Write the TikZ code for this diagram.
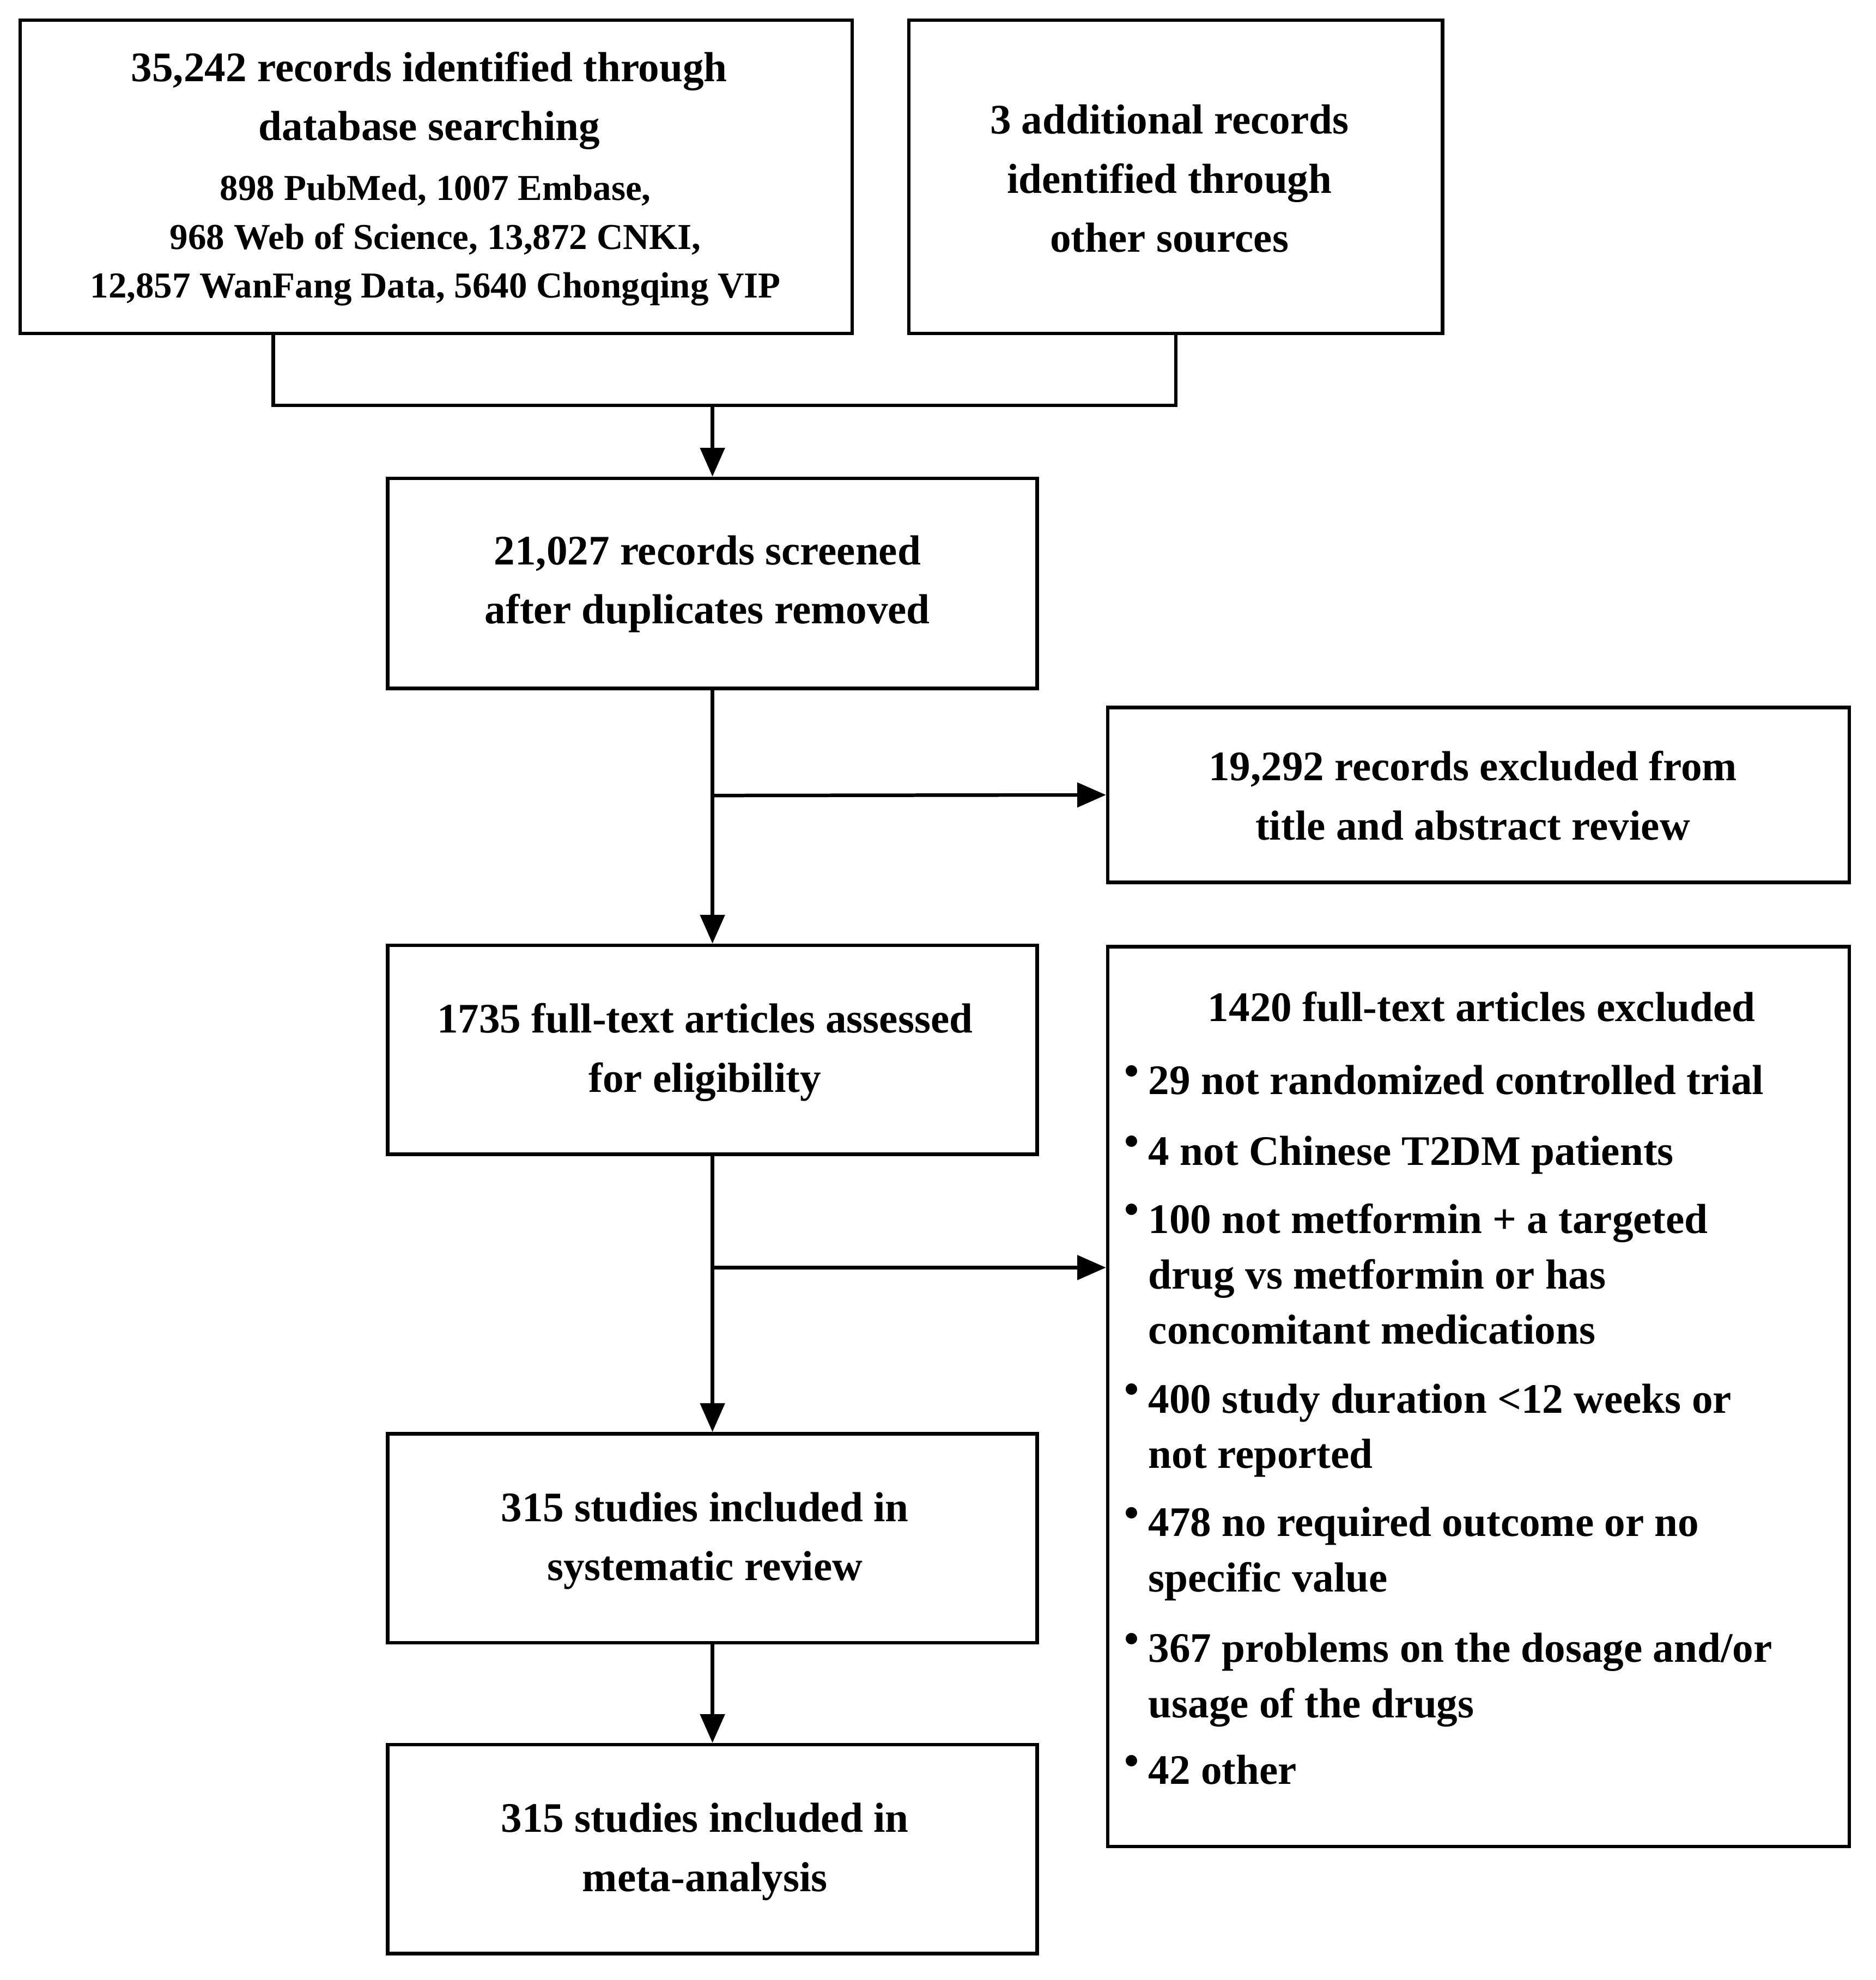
\documentclass[tikz,border=0pt]{standalone}
\usepackage{fontspec}
\setmainfont{Liberation Serif}
\usetikzlibrary{arrows.meta}
\begin{document}
\begin{tikzpicture}[x=0.02cm,y=-0.02cm,
 box/.style={draw,line width=1.6pt,inner sep=0pt},
 big/.style={font=\fontsize{19}{26.7}\selectfont\bfseries,align=center},
 sm/.style={font=\fontsize{16.5}{22}\selectfont\bfseries,align=center},
 li/.style={font=\fontsize{19}{25}\selectfont\bfseries,align=left,anchor=north west,inner sep=0pt},
 ln/.style={line width=1.6pt},
 ar/.style={line width=1.6pt,-{Triangle[length=13pt,width=11pt]}}]
\useasboundingbox (0,0) rectangle (1490,1573);
% boxes
\node[box,minimum width=661*0.02cm,minimum height=249*0.02cm] (A) at (346.5,140.5) {};
\node[box,minimum width=424*0.02cm,minimum height=249*0.02cm] (B) at (934,140.5) {};
\node[box,minimum width=516*0.02cm,minimum height=167*0.02cm] (C) at (566,463.5) {};
\node[box,minimum width=589*0.02cm,minimum height=139*0.02cm] (D) at (1174.5,631.5) {};
\node[box,minimum width=516*0.02cm,minimum height=166*0.02cm] (E) at (566,834) {};
\node[box,minimum width=589*0.02cm,minimum height=715*0.02cm] (F) at (1174.5,1109.5) {};
\node[box,minimum width=516*0.02cm,minimum height=166*0.02cm] (G) at (566,1222) {};
\node[box,minimum width=516*0.02cm,minimum height=166*0.02cm] (H) at (566,1469) {};
% texts
\node[big] (tA1) at (341,80) {35,242 records identified through\\database searching};
\node[sm] (tA2) at (346,191) {898 PubMed, 1007 Embase,\\968 Web of Science, 13,872 CNKI,\\12,857 WanFang Data, 5640 Chongqing VIP};
\node[big] (tB) at (929,142) {3 additional records\\identified through\\other sources};
\node[big] (tC) at (562,464) {21,027 records screened\\after duplicates removed};
\node[big] (tD) at (1170,632) {19,292 records excluded from\\title and abstract review};
\node[big] (tE) at (560,836) {1735 full-text articles assessed\\for eligibility};
\node[big] (tG) at (560,1224) {315 studies included in\\systematic review};
\node[big] (tH) at (560,1471) {315 studies included in\\meta-analysis};
\node[big] (tF) at (1177,800) {1420 full-text articles excluded};
\foreach \y/\t in {846/29 not randomized controlled trial,
 902/4 not Chinese T2DM patients,
 956/{100 not metformin + a targeted\\drug vs metformin or has\\concomitant medications},
 1099/{400 study duration <12 weeks or\\not reported},
 1197/{478 no required outcome or no\\specific value},
 1297/{367 problems on the dosage and/or\\usage of the drugs},
 1394/42 other}{
 \node[li] at (912,\y) {\t};
 \node[li] at (893,\y) {•};
}
% connectors
\coordinate (m) at (566,322);
\draw[ln] (A.south -| 217,0) |- (m) -| (B.south);
\draw[ar] (m) -- (C.north);
\draw[ar] (C.south) -- (E.north);
\draw[ar] (566,632) -- (D.west);
\draw[ar] (E.south) -- (G.north);
\draw[ar] (566,1007) -- (F.west |- 0,1007);
\draw[ar] (G.south) -- (H.north);
\end{tikzpicture}
\end{document}
